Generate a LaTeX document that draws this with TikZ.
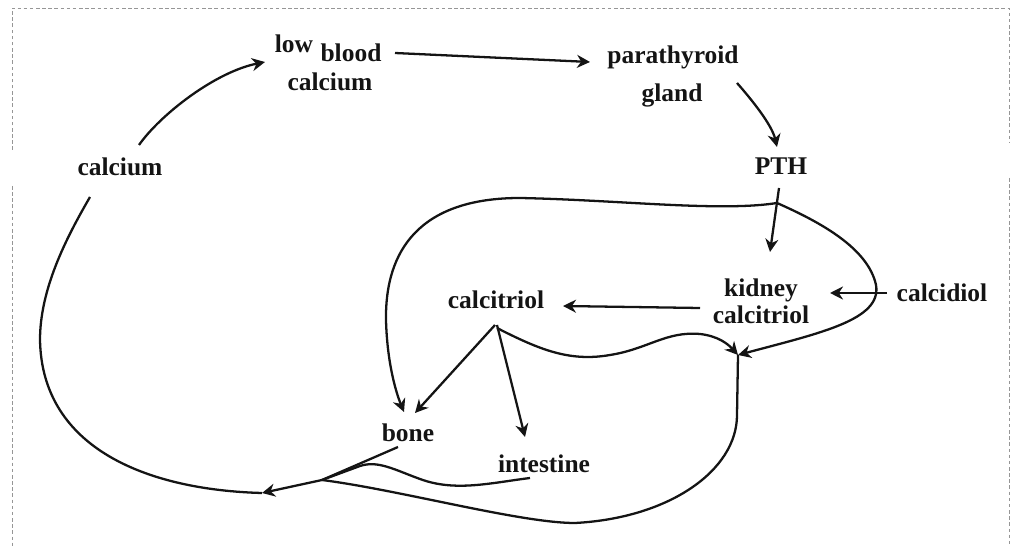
\documentclass[tikz,border=0pt]{standalone}
\usepackage{fontspec}
\setmainfont{Liberation Serif}
\usetikzlibrary{arrows.meta}
\definecolor{ink}{RGB}{20,20,20}
\definecolor{scan}{RGB}{150,150,150}
\tikzset{
  >={Stealth[length=2.6mm,width=2.6mm]},
  word/.style={font=\fontsize{14.5}{15.5}\selectfont\bfseries,text=ink,inner sep=2pt,align=center},
  flow/.style={->,line width=1.3pt,draw=ink},
  trail/.style={line width=1.3pt,draw=ink},
  scanframe/.style={draw=scan,line width=0.4pt,dash pattern=on 2pt off 1.5pt},
}
\begin{document}
\begin{tikzpicture}[x=0.02cm,y=0.02cm]
  \useasboundingbox (0,0) rectangle (1017,-546);
  % frame of the scan
  \draw[scanframe] (12,-150) -- (12,-8) -- (1009,-8) -- (1009,-142);
  \draw[scanframe] (12,-186) -- (12,-546); \draw[scanframe] (1009,-178) -- (1009,-546);
  % words
  \node[word] (calcium) at (120,-167) {calcium};
  \node[word] (lowtxt) at (294,-44) {low};
  \node[word] (blood) at (351,-53) {blood};
  \node[word] (bloodca) at (330,-82) {calcium};
  \node[word] (para) at (673,-57) {parathyroid};
  \node[word] (gland) at (672,-95) {gland};
  \node[word] (pth) at (781,-166) {PTH};
  \node[word] (kidney) at (761,-301) {kidney\\calcitriol};
  \node[word] (calcidiol) at (942,-293) {calcidiol};
  \node[word] (calcitriol) at (496,-300) {calcitriol};
  \node[word] (bone) at (408,-433) {bone};
  \node[word] (intestine) at (544,-464) {intestine};
  % junctions
  \coordinate (pj) at (777,-203); \coordinate (kj) at (738,-355);
  \coordinate (mrg) at (322,-480); \coordinate (back) at (262,-493);
  % upper loop
  \draw[flow] ([shift={(19,22)}]calcium.center) .. controls +(21,30) and +(-50,-10) .. ([shift={(-29,-18)}]lowtxt.center);
  \draw[flow] ([shift={(44,0)}]blood.center) -- ([shift={(-83,-5)}]para.center);
  \draw[flow] ([shift={(65,12)}]gland.center) .. controls +(15,-17) and +(-5,22) .. ([shift={(-4,19)}]pth.center);
  \draw[flow] ([shift={(-2,-22)}]pth.center) -- ([shift={(9,49)}]kidney.center);
  % PTH on bone and kidney
  \draw[flow] (pj) .. controls (720,-212) and (620,-200) .. (520,-198)
    .. controls (420,-198) and (385,-250) .. (386,-320)
    .. controls (387,-360) and (395,-390) .. ([shift={(-4,21)}]bone.center);
  \draw[flow] (pj) .. controls (820,-222) and (868,-248) .. (876,-285)
    .. controls (882,-320) and (820,-333) .. (kj);
  % calcitriol
  \draw[flow] ([shift={(-55,0)}]calcidiol.center) -- ([shift={(69,8)}]kidney.center);
  \draw[flow] ([shift={(-61,-7)}]kidney.center) -- ([shift={(67,-6)}]calcitriol.center);
  \draw[flow] ([shift={(-1,-25)}]calcitriol.center) -- ([shift={(7,20)}]bone.center);
  \draw[flow] ([shift={(1,-25)}]calcitriol.center) -- ([shift={(-19,27)}]intestine.center);
  \draw[flow] ([shift={(1,-28)}]calcitriol.center) .. controls (540,-350) and (570,-362) .. (610,-355)
    .. controls (648,-349) and (666,-331) .. (700,-334) .. controls (718,-336) and (728,-344) .. (kj);
  % back to calcium
  \draw[trail] ([shift={(-10,-14)}]bone.center) -- (mrg);
  \draw[trail] ([shift={(-14,-14)}]intestine.center) .. controls (490,-483) and (455,-492) .. (420,-479)
    .. controls (395,-470) and (378,-460) .. (360,-466) -- (mrg);
  \draw[trail] (kj) -- (737,-415) .. controls (737,-470) and (670,-518) .. (575,-523)
    .. controls (520,-523) and (400,-490) .. (mrg);
  \draw[flow] (mrg) -- (back);
  \draw[trail] (back) .. controls (150,-490) and (42,-450) .. (40,-340)
    .. controls (40,-290) and (65,-240) .. ([shift={(-30,-30)}]calcium.center);
\end{tikzpicture}
\end{document}
